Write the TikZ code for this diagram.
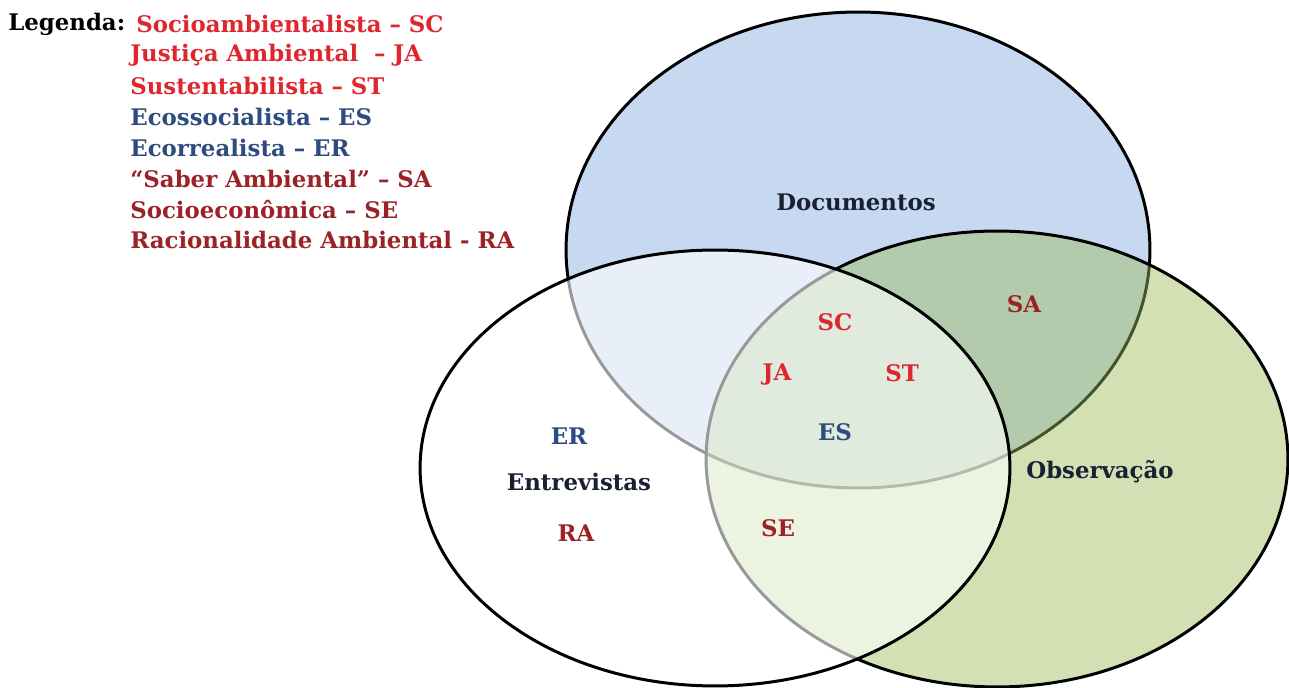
\documentclass[tikz,border=0pt]{standalone}
\usepackage{fontspec}
\setmainfont{DejaVu Serif}
\definecolor{DocBlue}{RGB}{198,217,241}
\definecolor{ObsGreen}{RGB}{155,187,89}
\definecolor{TagRed}{RGB}{222,38,46}
\definecolor{TagDark}{RGB}{155,34,38}
\definecolor{TagBlue}{RGB}{45,75,125}
\definecolor{NameInk}{RGB}{25,32,50}
\tikzstyle{set} = [line width=1.7pt, draw=black]
\tikzstyle{tag} = [font=\bfseries\fontsize{13}{15}\selectfont, inner sep=0pt]
\tikzstyle{leg} = [font=\bfseries\fontsize{13}{15}\selectfont, inner sep=0pt, anchor=west]

\begin{document}
\begin{tikzpicture}[x=0.02cm, y=-0.02cm]
\useasboundingbox (0,0) rectangle (1289,688);

% Conjuntos
\path[set, fill=DocBlue] (858,250) ellipse [x radius=5.84cm, y radius=4.76cm];
\path[set, fill=ObsGreen, fill opacity=0.45] (997,459) ellipse [x radius=5.82cm, y radius=4.56cm];
\path[set, fill=white, fill opacity=0.6] (715,468) ellipse [x radius=5.9cm, y radius=4.36cm];

% Nomes dos conjuntos
\node (doc) [tag, NameInk] at (856,202) {Documentos};
\node (ent) [tag, NameInk] at (579,482) {Entrevistas};
\node (obs) [tag, NameInk] at (1100,472) {Observação};

% Categorias
\node (sa) [tag, TagDark] at (1024,304) {SA};
\node (sc) [tag, TagRed] at (835,322) {SC};
\node (ja) [tag, TagRed] at (777,375) {JA};
\node (st) [tag, TagRed] at (902,373) {ST};
\node (es) [tag, TagBlue] at (835,432) {ES};
\node (er) [tag, TagBlue] at (569,436) {ER};
\node (ra) [tag, TagDark] at (576,533) {RA};
\node (se) [tag, TagDark] at (778,528) {SE};

% Legenda
\node (legenda) [leg] at (8,24) {Legenda:};
\node (lsc) [leg, TagRed] at (136,24) {Socioambientalista – SC};
\node (lja) [leg, TagRed] at (130,55) {Justiça Ambiental \ – JA};
\node (lst) [leg, TagRed] at (130,86) {Sustentabilista – ST};
\node (les) [leg, TagBlue] at (130,117) {Ecossocialista – ES};
\node (ler) [leg, TagBlue] at (130,148) {Ecorrealista – ER};
\node (lsa) [leg, TagDark] at (130,179) {“Saber Ambiental” – SA};
\node (lse) [leg, TagDark] at (130,210) {Socioeconômica – SE};
\node (lra) [leg, TagDark] at (130,240) {Racionalidade Ambiental - RA};

\end{tikzpicture}
\end{document}
